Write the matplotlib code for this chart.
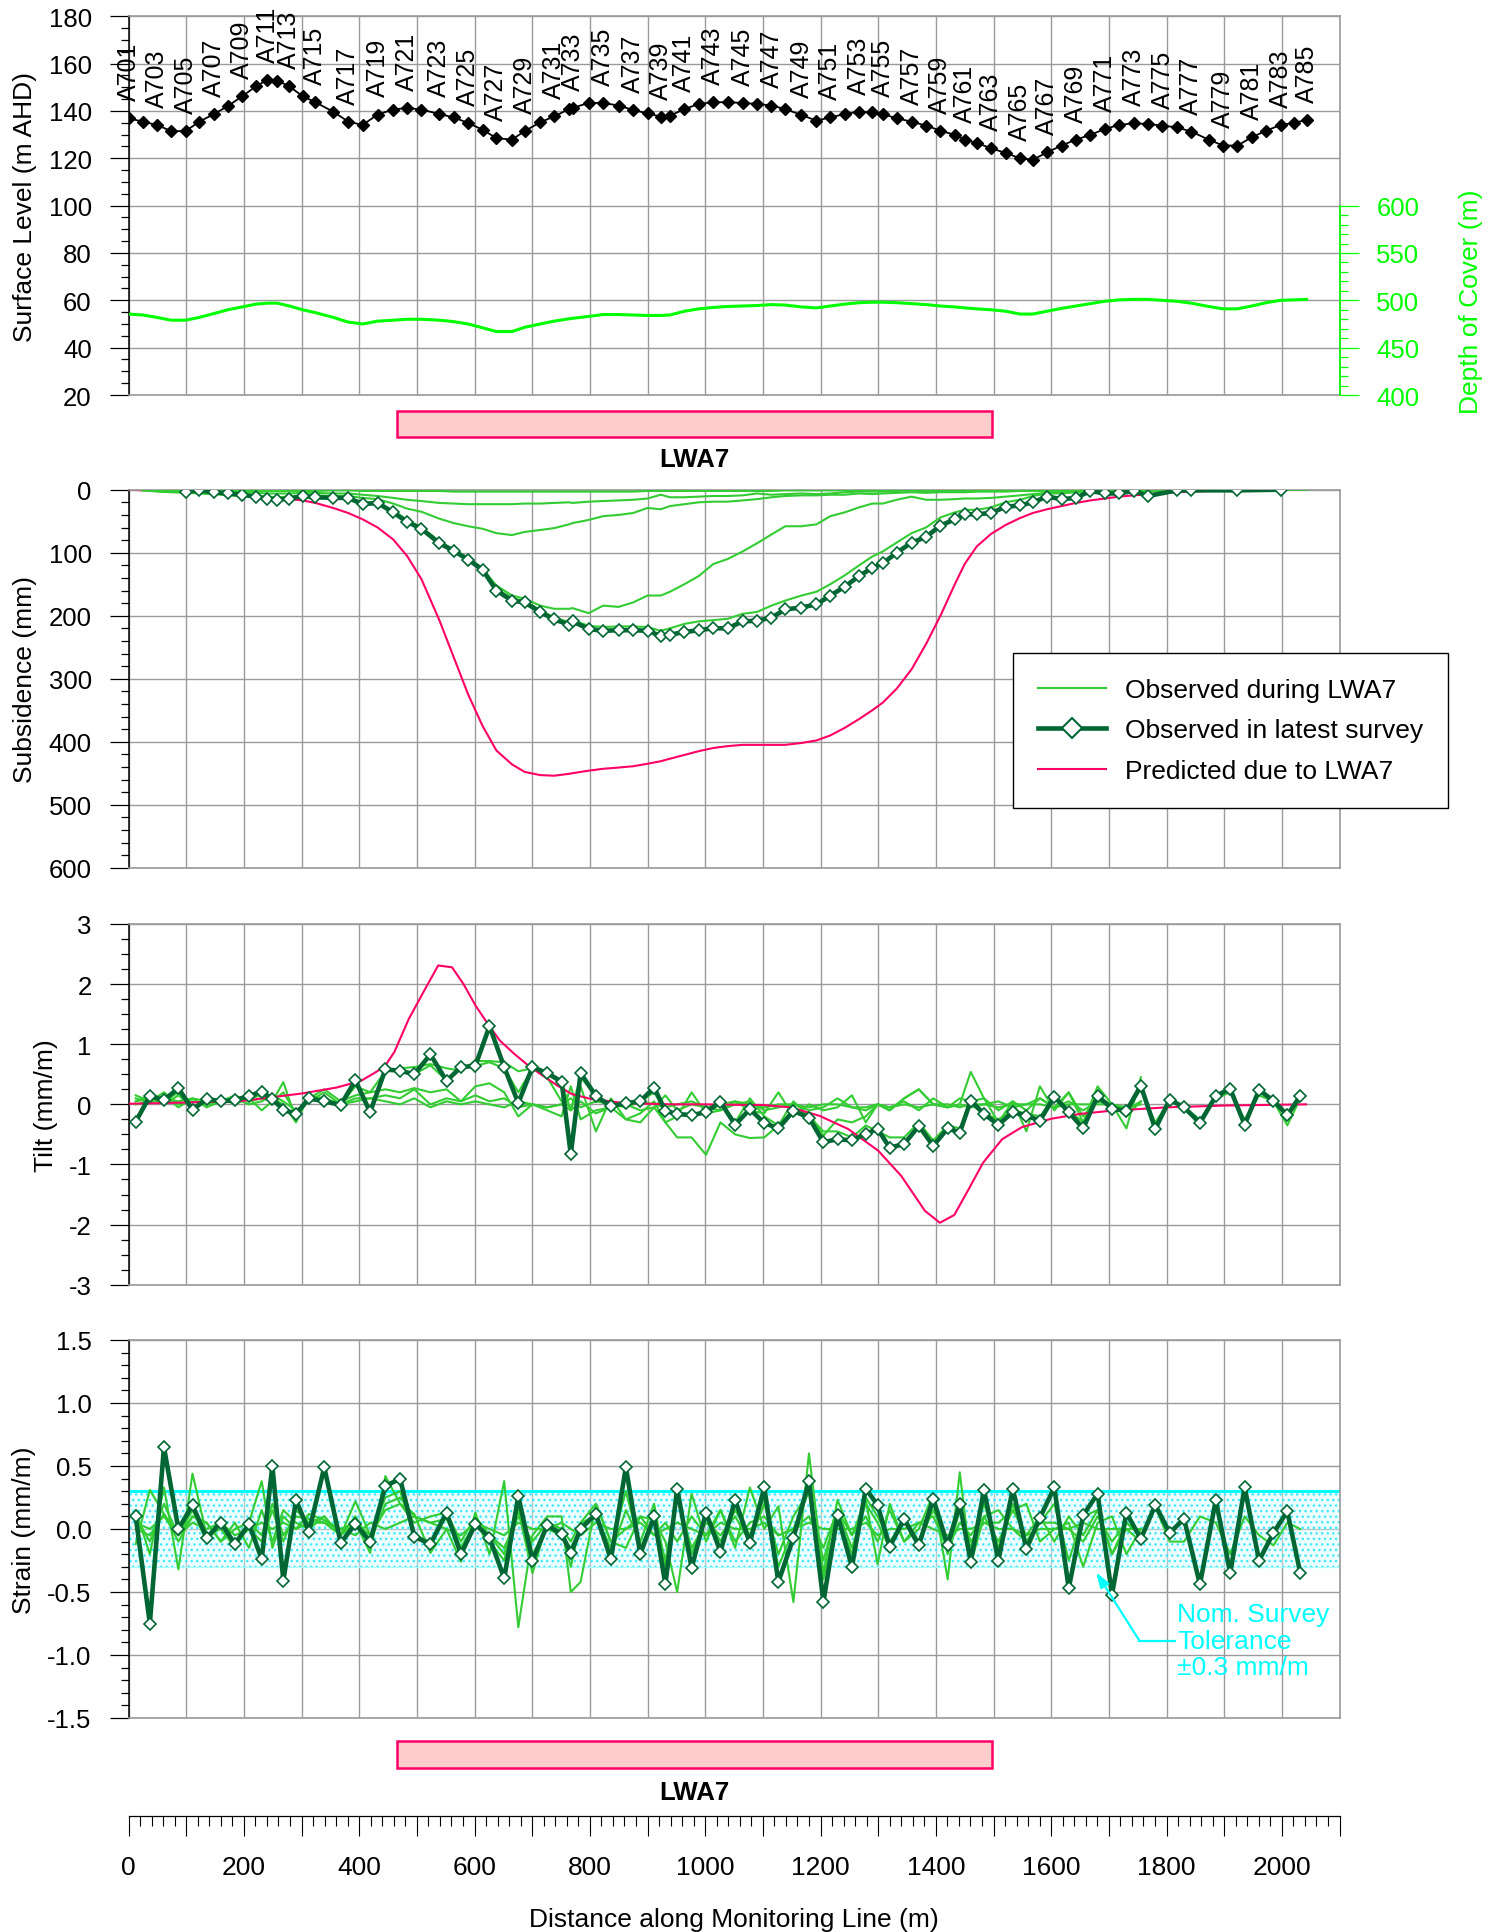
import numpy as np
import matplotlib
matplotlib.use("Agg")
import matplotlib.pyplot as plt
from matplotlib.lines import Line2D
from matplotlib.patches import Rectangle
from matplotlib.ticker import MultipleLocator, FixedLocator, FuncFormatter, FormatStrFormatter

plt.rcParams['font.family'] = ['Liberation Sans', 'DejaVu Sans']
plt.rcParams['axes.unicode_minus'] = False

# ---------------------------------------------------------------- data
MARK_NAMES = [f"A{n}" for n in range(701, 786)]

MARK_CHAINAGE = [
    0, 25, 49, 74, 99, 123, 148, 172, 197, 221,
    241, 258, 279, 302, 324, 355, 381, 406, 432, 459,
    483, 508, 539, 564, 589, 614, 638, 665, 687, 714,
    738, 764, 770, 798, 823, 850, 875, 900, 923, 939,
    964, 989, 1014, 1039, 1065, 1090, 1115, 1139, 1167, 1193,
    1217, 1242, 1267, 1290, 1308, 1332, 1358, 1383, 1408, 1433,
    1450, 1471, 1496, 1521, 1546, 1568, 1593, 1618, 1643, 1668,
    1693, 1718, 1743, 1768, 1793, 1818, 1843, 1873, 1898, 1923,
    1948, 1973, 1998, 2021, 2043]

SURFACE_LEVEL = [
    136.9, 135.5, 134.1, 131.5, 131.5, 135.5, 138.7, 142.0, 146.2, 150.4,
    153.2, 152.8, 150.4, 146.2, 143.7, 139.7, 135.5, 134.1, 138.5, 140.6,
    141.3, 140.6, 138.7, 137.3, 134.9, 132.1, 128.5, 127.9, 131.5, 135.2,
    137.7, 140.8, 141.3, 143.4, 143.4, 142.3, 140.4, 139.0, 137.6, 138.0,
    140.8, 143.0, 143.7, 143.7, 143.4, 143.0, 142.3, 140.8, 138.3, 135.9,
    137.3, 138.7, 139.7, 139.4, 138.7, 136.9, 135.5, 133.8, 131.7, 129.9,
    127.9, 126.5, 124.2, 122.3, 120.0, 119.4, 122.5, 125.4, 127.9, 129.9,
    132.4, 134.1, 134.8, 134.5, 133.8, 133.1, 131.3, 127.9, 125.4, 125.4,
    128.9, 131.7, 134.1, 134.9, 136.3]

DEPTH_OF_COVER = [
    485.5, 484.5, 482, 479, 479, 482, 486, 490, 493, 496,
    497, 497, 494, 490, 487, 482, 477, 475, 478, 479,
    480, 480, 479, 477.5, 475, 471, 467, 467, 471.5, 475,
    478, 480.5, 481, 483, 485, 485, 484.5, 484, 484, 484.5,
    488.5, 491, 492.5, 493.5, 494, 494.5, 495.5, 495, 493, 492,
    494, 496, 497.5, 498, 498, 497.5, 496.5, 495.5, 494, 493,
    492, 491, 490, 488.5, 485.5, 485.5, 488.5, 491.5, 494, 496.5,
    499, 500.5, 501, 501, 500, 499, 497, 493.5, 491, 491,
    494, 497.5, 500, 500.5, 501]

LWA7_START, LWA7_END = 465, 1498

# subsidence (mm) at each mark, latest survey
SUBS_LATEST = [
    None, None, None, None, 3, 1, 4, 6, 8, 11,
    15, 16, 14, 10, 12, 13, 13, 23, 21, 36,
    51, 62, 85, 97, 111, 127, 160, 176, 179, 194,
    206, 214, 209, 221, 224, 223, 223, 224, 232, 230,
    226, 223, 220, 220, 209, 208, 203, 190, 187, 182,
    168, 154, 137, 124, 117, 100, 84, 75, 57, 47,
    39, 39, 37, 27, 25, 20, 11, 15, 13, 2,
    6, 6, 2, 10, None, 1, 1, None, None, 1,
    None, None, 0, None, None]

SUBS_PREDICTED = [
    0, 1, 2, 3, 4, 5, 6, 7, 9, 10,
    12, 13, 15, 17, 21, 29, 37, 47, 60, 79,
    105, 142, 207, 266, 325, 375, 414, 436, 448, 453,
    454, 451, 450, 446, 443, 441, 439, 435, 431, 427,
    421, 415, 410, 407, 405, 405, 405, 405, 402, 398,
    390, 378, 364, 350, 338, 316, 285, 245, 200, 150,
    118, 90, 70, 56, 45, 37, 31, 26, 21, 17,
    14, 11, 9, 7, 5, 4, 3, 2, 1, 1,
    1, 0, 0, 0, 0]

# surveys during LWA7, starting at A702
SUBS_OBS_1 = [
    0, 0, 1, 1, 1, 2, 2, 2, 2, 2,
    2, 2, 2, 2, 1, 1, 2, 2, 2, 2,
    2, 2, 3, 3, 3, 3, 3, 3, 3, 3,
    3, 3, 3, 3, 3, 3, 2, 2, 2, 2,
    2, 2, 2, 2, 2, 2, 1, 1, 1, 1,
    1, 1, 1, 1, 1, 1, 1, 1, 1, 1,
    1, 0, 0, 0, 0, 0, 0, 0, 0, 0,
    0, 0, 0]
SUBS_OBS_2 = [
    0, 1, 1, 2, 2, 3, 4, 4, 5, 6,
    6, 6, 5, 5, 6, 6, 8, 10, 13, 16,
    18, 21, 22, 23, 23, 23, 23, 22, 22, 21,
    20, 21, 19, 18, 17, 16, 14, 8, 12, 12,
    11, 10, 10, 9, 6, 8, 7, 6, 7, 6,
    4, 3, 3, 3, 2, 1, 3, 2, 2, 2,
    1, 1, 1, 1, 0, 0, 0, 0, 0, 0,
    0, 0, 0]
SUBS_OBS_3 = [
    0, 2, 3, 4, 5, 6, 8, 9, 10, 11,
    12, 11, 10, 9, 10, 10, 13, 15, 22, 30,
    35, 46, 53, 58, 62, 69, 72, 67, 64, 61,
    55, 53, 48, 42, 40, 37, 29, 31, 26, 23,
    20, 19, 19, 17, 15, 12, 10, 9, 9, 8,
    8, 6, 7, 6, 5, 4, 5, 4, 4, 4,
    3, 3, 3, 2, 2, 2, 2, 1, 1, 1,
    1, 0, 1]
SUBS_OBS_4 = [
    1, 3, 4, 5, 6, 7, 9, 10, 11, 13,
    14, 13, 12, 12, 13, 13, 20, 21, 33, 48,
    60, 82, 96, 110, 126, 152, 168, 173, 184, 189,
    189, 188, 196, 184, 186, 179, 168, 168, 162, 150,
    137, 118, 110, 98, 85, 71, 58, 58, 55, 42,
    36, 28, 22, 22, 16, 11, 16, 16, 15, 14,
    14, 13, 11, 9, 7, 5, 4, 3, 2, 2,
    1, 1, 2]
SUBS_OBS_5 = [
    1, 2, 3, 4, 5, 6, 8, 9, 11, 13,
    14, 13, 12, 12, 13, 14, 20, 22, 34, 49,
    60, 82, 95, 108, 125, 157, 172, 177, 191, 203,
    210, 207, 216, 218, 217, 217, 218, 224, 220, 213,
    209, 207, 205, 197, 194, 184, 176, 168, 162, 150,
    136, 120, 106, 98, 84, 69, 60, 44, 36, 32,
    32, 28, 20, 16, 10, 6, 6, 4, 2, 2,
    2, 1, 3, 2, 1, 1, 1, 0, 1, 0,
    0, 0, 0, 0]

# tilt (mm/m) per bay, latest survey
TILT_LATEST = [
    -0.29, 0.14, 0.07, 0.27, -0.09, 0.09, 0.05, 0.07, 0.14, 0.21,
    0.09, -0.09, -0.16, 0.10, 0.05, -0.01, 0.40, -0.13, 0.58, 0.56,
    0.50, 0.83, 0.39, 0.62, 0.64, 1.30, 0.62, 0.02, 0.62, 0.52,
    0.38, -0.83, 0.52, 0.14, -0.03, 0.02, 0.05, 0.28, -0.11, -0.16,
    -0.18, -0.13, 0.04, -0.34, -0.08, -0.31, -0.40, -0.11, -0.22, -0.63,
    -0.58, -0.60, -0.49, -0.41, -0.72, -0.66, -0.36, -0.69, -0.40, -0.47,
    0.06, -0.16, -0.34, -0.13, -0.19, -0.27, 0.13, -0.13, -0.40, 0.14,
    -0.07, -0.11, 0.31, -0.41, 0.08, -0.05, -0.31, 0.14, 0.26, -0.34,
    0.24, 0.06, -0.18, 0.14]

TILT_PRED_X = [0, 100, 200, 300, 361, 403, 428, 445, 461, 486, 511, 537, 561,
               581, 602, 623, 644, 669, 694, 718, 744, 769, 802, 860, 943, 1001,
               1076, 1100, 1148, 1198, 1248, 1300, 1340, 1381, 1407, 1432, 1457,
               1482, 1515, 1549, 1600, 1649, 1700, 1800, 1900, 2042]
TILT_PRED = [0.01, 0.03, 0.06, 0.18, 0.28, 0.39, 0.53, 0.64, 0.87, 1.42, 1.86, 2.31, 2.28,
             2.0, 1.64, 1.34, 1.06, 0.84, 0.64, 0.48, 0.31, 0.17, 0.09, 0.02, 0.0, 0.0,
             -0.01, -0.01, -0.05, -0.19, -0.41, -0.77, -1.19, -1.77, -1.97, -1.84, -1.41,
             -0.97, -0.58, -0.38, -0.24, -0.16, -0.11, -0.05, -0.02, 0.0]

TILT_OBS_1 = [
    0.10, 0.02, 0.15, -0.05, 0.10, -0.05, 0.05, 0.10, 0.00, 0.05,
    0.15, 0.05, -0.10, 0.05, 0.10, 0.00, 0.05, 0.10, 0.05, 0.00,
    0.10, -0.05, 0.05, 0.00, 0.05, 0.00, -0.05, 0.05, 0.00, -0.05,
    0.00, 0.10, -0.05, 0.05, 0.00, -0.05, 0.05, 0.00, -0.05, 0.00,
    0.05, -0.05, 0.00, 0.05, 0.00, -0.05, 0.00, 0.00, -0.05, 0.00,
    0.00, -0.05, -0.05, 0.00, -0.05, 0.00, -0.05, 0.00, 0.00, -0.05,
    0.00, 0.00, -0.05, 0.00, 0.00, 0.00, -0.05, 0.00, 0.00, 0.00,
    0.00, -0.05, 0.00]
TILT_OBS_2 = [
    0.05, 0.10, 0.00, 0.15, -0.05, 0.05, 0.10, 0.00, 0.10, -0.10,
    0.05, 0.20, -0.15, 0.05, 0.20, 0.00, 0.10, 0.10, 0.15, 0.10,
    0.25, 0.00, 0.10, 0.05, 0.15, 0.05, 0.10, -0.05, 0.00, -0.05,
    0.00, -0.10, 0.05, -0.15, -0.05, 0.00, -0.10, -0.05, 0.15, -0.10,
    0.00, -0.05, -0.10, 0.00, 0.05, -0.10, -0.05, 0.00, -0.10, -0.05,
    0.10, -0.05, -0.10, 0.00, -0.05, 0.05, -0.10, 0.10, -0.05, 0.00,
    -0.05, 0.00, 0.05, -0.05, 0.00, 0.10, -0.05, 0.05, -0.10, 0.05,
    0.00, -0.10, 0.05]
TILT_OBS_3 = [
    0.00, 0.05, 0.10, 0.05, 0.10, 0.05, 0.05, 0.15, 0.05, 0.10,
    0.05, 0.37, -0.25, 0.10, 0.25, 0.05, 0.15, 0.20, 0.25, 0.20,
    0.27, 0.20, 0.25, 0.05, 0.30, 0.35, 0.20, -0.20, 0.00, -0.10,
    -0.20, 0.30, -0.25, -0.10, -0.05, -0.25, -0.15, 0.05, -0.30, -0.20,
    0.20, -0.15, -0.10, 0.05, -0.10, -0.15, 0.20, -0.20, 0.00, -0.10,
    -0.05, 0.15, -0.30, 0.00, -0.10, 0.10, 0.25, 0.00, -0.05, 0.10,
    0.05, 0.10, -0.10, 0.05, -0.10, 0.10, -0.05, 0.20, -0.20, 0.10,
    0.00, -0.20, 0.05]
TILT_OBS_4 = [
    0.15, 0.05, 0.20, 0.00, 0.05, 0.00, 0.05, 0.05, 0.10, 0.15,
    0.10, 0.00, -0.30, 0.15, 0.10, 0.00, 0.30, 0.20, 0.55, 0.60,
    0.62, 0.67, 0.60, 0.56, 0.72, 0.72, 0.70, 0.55, 0.60, 0.45,
    0.05, -0.05, 0.30, -0.45, 0.10, -0.25, -0.30, -0.05, -0.30, -0.55,
    -0.55, -0.84, -0.30, -0.50, -0.56, -0.55, -0.35, -0.10, -0.15, -0.52,
    -0.25, -0.30, -0.20, 0.00, -0.10, 0.10, 0.25, 0.00, -0.05, 0.00,
    0.54, 0.10, -0.30, 0.05, -0.45, 0.30, -0.10, 0.20, -0.30, 0.30,
    0.00, -0.40, 0.45]
TILT_OBS_5 = [
    0.05, 0.15, 0.05, 0.20, -0.05, 0.10, 0.05, 0.05, 0.15, 0.20,
    0.05, -0.10, -0.20, 0.10, 0.05, 0.00, 0.35, -0.10, 0.55, 0.56,
    0.50, 0.65, 0.40, 0.60, 0.64, 0.70, 0.60, 0.20, 0.60, 0.50,
    0.35, -0.10, 0.45, 0.15, -0.05, 0.00, 0.05, 0.20, -0.10, -0.15,
    -0.20, -0.10, 0.05, -0.30, 0.10, -0.20, -0.35, 0.05, -0.20, -0.45,
    -0.45, -0.55, -0.35, -0.45, -0.55, -0.55, -0.30, -0.60, -0.35, -0.40,
    0.00, -0.15, -0.25, -0.10, -0.15, -0.20, 0.10, -0.10, -0.30, 0.10,
    -0.05, -0.10, 0.25, -0.30, 0.05, -0.05, -0.25, 0.10, 0.20, -0.25,
    0.15, 0.05, -0.35, 0.10]

# strain (mm/m) per bay, latest survey
STRAIN_LATEST = [
    0.10, -0.75, 0.65, 0.00, 0.19, -0.07, 0.05, -0.12, 0.04, -0.24,
    0.50, -0.41, 0.23, -0.02, 0.49, -0.11, 0.04, -0.10, 0.34, 0.40,
    -0.06, -0.12, 0.13, -0.20, 0.04, -0.07, -0.39, 0.26, -0.25, 0.03,
    -0.04, -0.19, 0.00, 0.12, -0.24, 0.49, -0.20, 0.10, -0.44, 0.32,
    -0.31, 0.13, -0.18, 0.23, -0.11, 0.33, -0.42, -0.07, 0.38, -0.58,
    0.11, -0.30, 0.32, 0.19, -0.14, 0.08, -0.13, 0.24, -0.13, 0.20,
    -0.26, 0.31, -0.25, 0.32, -0.16, 0.09, 0.33, -0.47, 0.11, 0.28,
    -0.52, 0.13, -0.08, 0.19, -0.03, 0.08, -0.44, 0.23, -0.35, 0.33,
    -0.25, -0.03, 0.14, -0.35]

STRAIN_OBS_1 = [
    0.05, 0.00, 0.10, -0.05, 0.05, 0.00, 0.05, -0.05, 0.00, 0.05,
    0.00, 0.05, 0.00, 0.05, 0.05, 0.00, -0.05, 0.05, 0.00, 0.05,
    0.10, 0.05, 0.00, -0.05, 0.05, 0.00, -0.05, 0.05, 0.00, 0.00,
    0.05, 0.00, -0.05, 0.05, 0.00, 0.00, 0.05, -0.05, 0.00, 0.05,
    0.00, -0.05, 0.05, 0.00, 0.00, 0.05, -0.05, 0.00, 0.05, 0.00,
    0.00, 0.00, 0.05, -0.05, 0.00, 0.00, 0.05, 0.00, -0.05, 0.00,
    0.00, 0.05, 0.00, 0.00, -0.05, 0.00, 0.00, 0.00, 0.05, 0.00,
    0.00, 0.00, 0.00]
STRAIN_OBS_2 = [
    -0.12, 0.31, 0.12, -0.10, 0.10, 0.05, -0.10, 0.05, -0.15, 0.15,
    -0.10, 0.15, 0.05, 0.00, 0.10, -0.05, 0.22, -0.05, 0.15, 0.20,
    0.05, 0.10, 0.13, -0.10, 0.10, -0.05, -0.15, 0.10, -0.10, 0.05,
    0.00, -0.10, 0.05, 0.20, -0.10, 0.00, 0.10, -0.05, 0.05, -0.10,
    0.10, -0.05, 0.15, -0.10, 0.05, 0.10, -0.05, 0.00, 0.10, -0.15,
    0.15, -0.05, 0.10, -0.10, 0.15, -0.10, 0.05, 0.10, -0.15, 0.05,
    -0.05, 0.10, 0.15, 0.00, -0.10, 0.05, 0.05, 0.00, -0.10, 0.10,
    -0.10, 0.05, -0.05]
STRAIN_OBS_3 = [
    0.15, -0.20, 0.33, -0.32, 0.44, -0.05, 0.00, -0.15, 0.05, 0.38,
    -0.15, 0.10, 0.00, 0.12, 0.07, 0.00, 0.05, -0.19, 0.42, 0.20,
    0.12, -0.19, 0.00, -0.26, 0.13, -0.20, 0.38, -0.78, -0.05, 0.10,
    0.10, -0.50, -0.42, 0.20, -0.10, -0.15, 0.10, 0.07, -0.10, -0.50,
    0.28, -0.10, 0.15, -0.15, 0.33, 0.00, 0.18, -0.58, 0.60, -0.35,
    0.23, -0.05, 0.23, -0.28, 0.20, -0.10, 0.00, 0.28, -0.40, 0.45,
    -0.28, 0.10, -0.10, 0.15, 0.20, -0.10, 0.00, 0.05, -0.30, 0.05,
    0.10, -0.20, 0.00]
STRAIN_OBS_4 = [
    0.00, -0.05, 0.12, -0.05, 0.10, 0.05, -0.10, 0.00, 0.05, -0.05,
    0.20, -0.05, 0.10, 0.08, 0.05, -0.05, 0.10, -0.10, 0.20, 0.25,
    0.10, 0.05, 0.08, -0.15, 0.05, -0.10, -0.25, 0.15, -0.35, 0.05,
    0.00, -0.30, 0.05, 0.10, -0.20, 0.15, -0.10, 0.20, -0.30, 0.25,
    -0.15, 0.05, -0.05, 0.10, -0.10, 0.20, -0.20, 0.10, 0.30, -0.25,
    0.15, -0.15, 0.20, 0.05, -0.15, 0.10, -0.10, 0.20, -0.20, 0.15,
    -0.10, 0.05, 0.05, 0.15, -0.05, 0.10, -0.10, 0.10, -0.05, 0.15,
    -0.20, 0.00, -0.10]
STRAIN_OBS_5 = [
    0.10, -0.10, 0.20, -0.05, 0.15, -0.10, 0.05, -0.10, 0.00, -0.10,
    0.15, -0.10, 0.15, 0.05, 0.10, -0.05, 0.05, -0.05, 0.25, 0.30,
    -0.05, -0.10, 0.10, -0.15, 0.05, -0.05, -0.20, 0.20, -0.20, 0.00,
    -0.05, -0.15, 0.00, 0.10, -0.15, 0.30, -0.15, 0.10, -0.25, 0.25,
    -0.20, 0.10, -0.10, 0.15, -0.05, 0.25, -0.30, 0.00, 0.30, -0.40,
    0.10, -0.20, 0.25, 0.10, -0.10, 0.05, -0.10, 0.15, -0.10, 0.15,
    -0.15, 0.20, -0.15, 0.20, -0.10, 0.05, 0.20, -0.25, 0.10, 0.15,
    -0.20, 0.05, -0.05, 0.18, -0.10, -0.10, 0.10, 0.05, -0.20, 0.10,
    -0.05, -0.13, 0.05, 0.00]

TOLERANCE = 0.3

# ---------------------------------------------------------------- style
C_OBS = '#33CC33'
C_LATEST = '#006633'
C_PRED = '#FF0066'
C_DOC = '#00FF00'
C_TOL = '#00FFFF'
C_GRID = '#9a9a9a'
FS = 18.5
MS_LATEST = 6.2

FIG_W, FIG_H = 1494, 1933
X0, X1 = 128.5, 1339.5


def box(y0, y1, x0=X0, x1=X1):
    return [x0 / FIG_W, 1 - y1 / FIG_H, (x1 - x0) / FIG_W, (y1 - y0) / FIG_H]


def series(x, y):
    x = np.asarray(x, float)
    y = np.array([np.nan if v is None else v for v in y], float)
    keep = ~np.isnan(y)
    return x[keep], y[keep]


def style_panel(ax, lo, hi, major, minor, label, invert=False):
    ax.set_xlim(0, 2100)
    ax.set_ylim((hi, lo) if invert else (lo, hi))
    ax.xaxis.set_major_locator(MultipleLocator(100))
    ax.yaxis.set_major_locator(MultipleLocator(major))
    ax.yaxis.set_minor_locator(MultipleLocator(minor))
    ax.grid(True, which='major', color=C_GRID, lw=1.0)
    ax.set_axisbelow(True)
    ax.tick_params(axis='x', which='both', bottom=False, labelbottom=False)
    ax.tick_params(axis='y', which='major', direction='out', length=13.5,
                   width=0.9, pad=13, labelsize=FS, color='black')
    ax.tick_params(axis='y', which='minor', direction='out', length=5.5,
                   width=0.9, color='black')
    for s in ('top', 'right', 'bottom'):
        ax.spines[s].set_color(C_GRID)
        ax.spines[s].set_linewidth(1.2)
    ax.spines['left'].set_color('black')
    ax.spines['left'].set_linewidth(1.1)
    ax.set_ylabel(label, fontsize=19, labelpad=8)


fig = plt.figure(figsize=(FIG_W / 100, FIG_H / 100), dpi=100)
fig.patch.set_facecolor('white')

bay_x = [(a + b) / 2 for a, b in zip(MARK_CHAINAGE[:-1], MARK_CHAINAGE[1:])]

# ---------------------------------------------------------------- surface level / depth of cover
ax_top = fig.add_axes(box(17.3, 396))
style_panel(ax_top, 20, 180, 20, 5, 'Surface Level (m AHD)')
ax_top.plot(MARK_CHAINAGE, SURFACE_LEVEL, color='black', lw=1.3, marker='D',
            ms=6.5, mfc='black', mec='black', zorder=4)
for i in range(0, len(MARK_NAMES), 2):
    ax_top.annotate(MARK_NAMES[i], (MARK_CHAINAGE[i], SURFACE_LEVEL[i]),
                    xytext=(0, 13), textcoords='offset points', rotation=90,
                    ha='center', va='bottom', fontsize=18, annotation_clip=False)

ax_doc = ax_top.twinx()
ax_doc.set_ylim(400, 800)
ax_doc.plot(MARK_CHAINAGE, DEPTH_OF_COVER, color=C_DOC, lw=2.2)
ax_doc.yaxis.set_major_locator(FixedLocator([400, 450, 500, 550, 600]))
ax_doc.yaxis.set_minor_locator(FixedLocator(list(range(400, 601, 10))))
ax_doc.tick_params(axis='y', which='major', direction='out', length=13.5, width=0.9,
                   pad=13, labelsize=FS, colors=C_DOC)
ax_doc.tick_params(axis='y', which='minor', direction='out', length=5.5, width=0.9,
                   colors=C_DOC)
for s in ('top', 'left', 'bottom'):
    ax_doc.spines[s].set_visible(False)
ax_doc.spines['right'].set_bounds(400, 600)
ax_doc.spines['right'].set_color(C_DOC)
ax_doc.spines['right'].set_linewidth(1.2)
ax_doc.set_ylabel('Depth of Cover (m)', fontsize=19, color=C_DOC)
ax_doc.yaxis.set_label_coords(1.099, 0.248)

# ---------------------------------------------------------------- panel bars


def panel_bar(y0, y1, text_y):
    axb = fig.add_axes(box(y0, y1))
    axb.set_xlim(0, 2100)
    axb.set_ylim(0, 1)
    axb.axis('off')
    axb.add_patch(Rectangle((LWA7_START, 0), LWA7_END - LWA7_START, 1,
                            facecolor='#FFCCCC', edgecolor=C_PRED, lw=1.8,
                            clip_on=False))
    axb.text((LWA7_START + LWA7_END) / 2, text_y, 'LWA7', ha='center', va='center',
             fontsize=18.5, fontweight='bold', clip_on=False)


panel_bar(411.7, 438, -0.84)

# ---------------------------------------------------------------- subsidence
ax_sub = fig.add_axes(box(490.7, 868.7))
style_panel(ax_sub, 0, 600, 100, 20, 'Subsidence (mm)', invert=True)
ax_sub.plot(*series(MARK_CHAINAGE, SUBS_PREDICTED), color=C_PRED, lw=1.5, zorder=2)
for obs in (SUBS_OBS_1, SUBS_OBS_2, SUBS_OBS_3, SUBS_OBS_4, SUBS_OBS_5):
    ax_sub.plot(*series(MARK_CHAINAGE[1:1 + len(obs)], obs), color=C_OBS, lw=1.5, zorder=3)
ax_sub.plot(*series(MARK_CHAINAGE, SUBS_LATEST), color=C_LATEST, lw=3.3, marker='D',
            ms=MS_LATEST, mfc='white', mec=C_LATEST, mew=1.2, zorder=4)

handles = [Line2D([], [], color=C_OBS, lw=1.5),
           Line2D([], [], color=C_LATEST, lw=3.3, marker='D', ms=10, mfc='white',
                  mec=C_LATEST, mew=1.5),
           Line2D([], [], color=C_PRED, lw=1.5)]
leg = fig.legend(handles, ['Observed during LWA7', 'Observed in latest survey',
                           'Predicted due to LWA7'],
                 loc='upper left', bbox_to_anchor=(1012.6 / FIG_W, 1 - 654 / FIG_H),
                 borderaxespad=0, fontsize=19, handlelength=2.6, handletextpad=0.7,
                 borderpad=0.95, labelspacing=0.62, fancybox=False, framealpha=1,
                 edgecolor='black')
leg.get_frame().set_linewidth(1.0)

# ---------------------------------------------------------------- tilt
ax_tilt = fig.add_axes(box(925, 1285.7))
style_panel(ax_tilt, -3, 3, 1, 0.25, 'Tilt (mm/m)')
for obs in (TILT_OBS_1, TILT_OBS_2, TILT_OBS_3, TILT_OBS_4, TILT_OBS_5):
    ax_tilt.plot(bay_x[:len(obs)], obs, color=C_OBS, lw=1.5, zorder=2)
ax_tilt.plot(TILT_PRED_X, TILT_PRED, color=C_PRED, lw=1.5, zorder=3)
ax_tilt.plot(bay_x, TILT_LATEST, color=C_LATEST, lw=3.3, marker='D', ms=MS_LATEST,
             mfc='white', mec=C_LATEST, mew=1.2, zorder=4)

# ---------------------------------------------------------------- strain
ax_str = fig.add_axes(box(1341, 1719))
style_panel(ax_str, -1.5, 1.5, 0.5, 0.1, 'Strain (mm/m)')
ax_str.yaxis.set_major_formatter(FormatStrFormatter('%.1f'))
ax_str.fill_between([0, 2100], -TOLERANCE, TOLERANCE, facecolor=(0.86, 1.0, 1.0, 0.45),
                    edgecolor='#40E8FF', hatch='...', lw=0, zorder=1)
ax_str.axhline(TOLERANCE, color=C_TOL, lw=2.2, zorder=1.5)
ax_str.axhline(-TOLERANCE, color='#B0FFFF', lw=1.0, zorder=1.5)
for obs in (STRAIN_OBS_1, STRAIN_OBS_2, STRAIN_OBS_3, STRAIN_OBS_4, STRAIN_OBS_5):
    ax_str.plot(bay_x[:len(obs)], obs, color=C_OBS, lw=1.5, zorder=2)
ax_str.plot(bay_x, STRAIN_LATEST, color=C_LATEST, lw=3.3, marker='D', ms=MS_LATEST,
            mfc='white', mec=C_LATEST, mew=1.2, zorder=4)

ax_str.text(1818, -0.886, 'Nom. Survey\nTolerance\n\u00b10.3 mm/m', color=C_TOL,
            fontsize=19, ha='left', va='center', linespacing=1.14, zorder=6)
ax_str.plot([1815, 1753], [-0.886, -0.886], color=C_TOL, lw=1.6, zorder=6)
ax_str.annotate('', xy=(1678, -0.344), xytext=(1753, -0.886),
                arrowprops=dict(arrowstyle='-|>,head_length=0.9,head_width=0.3',
                                color=C_TOL, lw=1.6, shrinkA=0, shrinkB=0), zorder=6)

panel_bar(1742, 1769, -0.9)

# ---------------------------------------------------------------- distance scale
ax_sc = fig.add_axes(box(1797, 1817))
ax_sc.set_xlim(0, 2100)
ax_sc.set_ylim(0, 1)
ax_sc.patch.set_visible(False)
for s in ('top', 'left', 'right'):
    ax_sc.spines[s].set_visible(False)
ax_sc.spines['bottom'].set_color('black')
ax_sc.spines['bottom'].set_linewidth(0.9)
ax_sc.yaxis.set_visible(False)
ax_sc.xaxis.set_major_locator(MultipleLocator(100))
ax_sc.xaxis.set_minor_locator(MultipleLocator(20))
ax_sc.xaxis.set_major_formatter(FuncFormatter(lambda v, p: f"{v:.0f}" if round(v) % 200 == 0 and v < 2050 else ""))
ax_sc.tick_params(axis='x', which='major', direction='out', length=14.4, width=0.8,
                  pad=14, labelsize=19)
ax_sc.tick_params(axis='x', which='minor', direction='out', length=7.2, width=0.8)
ax_sc.set_xlabel('Distance along Monitoring Line (m)', fontsize=19, labelpad=20)

fig.savefig('out.png', dpi=100, facecolor='white')
